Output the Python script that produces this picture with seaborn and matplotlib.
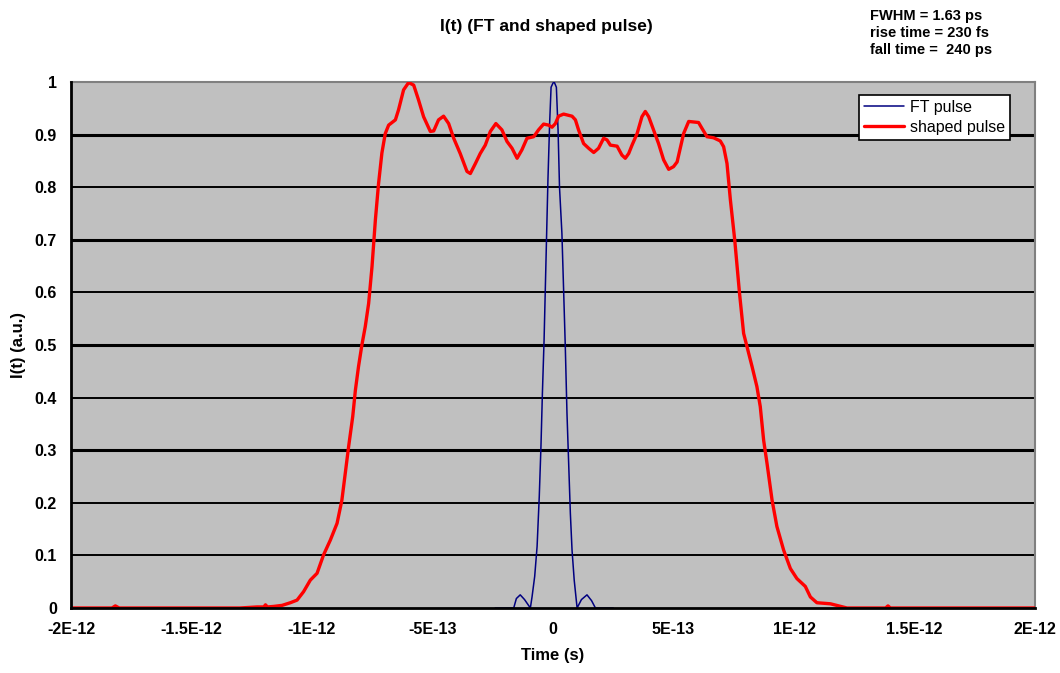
import matplotlib
matplotlib.use("Agg")
import matplotlib.pyplot as plt
import seaborn as sns
import pandas as pd
import numpy as np

# ---- data (time in ps, intensity in a.u.) ----
shaped_t = [-2.0, -1.83, -1.816, -1.80, -1.30, -1.228, -1.20, -1.193, -1.185, -1.159, -1.124, -1.090,
            -1.062, -1.035, -1.007, -0.979, -0.952, -0.924, -0.896, -0.876, -0.862, -0.848, -0.831,
            -0.820, -0.807, -0.793, -0.779, -0.765, -0.751, -0.737, -0.724, -0.710, -0.696, -0.682,
            -0.654, -0.641, -0.620, -0.599, -0.578, -0.558, -0.537, -0.509, -0.495, -0.475, -0.454,
            -0.433, -0.412, -0.385, -0.357, -0.343, -0.322, -0.302, -0.281, -0.260, -0.237, -0.212,
            -0.191, -0.170, -0.149, -0.129, -0.108, -0.080, -0.060, -0.039, -0.018, -0.004, 0.010,
            0.023, 0.044, 0.079, 0.093, 0.106, 0.127, 0.148, 0.169, 0.189, 0.210, 0.224, 0.238, 0.266,
            0.286, 0.300, 0.314, 0.328, 0.349, 0.369, 0.383, 0.397, 0.417, 0.438, 0.459, 0.480, 0.500,
            0.515, 0.528, 0.542, 0.563, 0.604, 0.618, 0.639, 0.666, 0.694, 0.708, 0.722, 0.736, 0.754,
            0.774, 0.791, 0.805, 0.826, 0.846, 0.860, 0.874, 0.888, 0.909, 0.929, 0.957, 0.985, 1.012,
            1.047, 1.068, 1.095, 1.151, 1.185, 1.22, 1.38, 1.39, 1.40, 2.0]
shaped_i = [0, 0, 0.004, 0, 0, 0.002, 0.002, 0.006, 0.002, 0.003, 0.005, 0.010,
            0.015, 0.031, 0.053, 0.066, 0.101, 0.129, 0.161, 0.205, 0.256, 0.307, 0.364,
            0.414, 0.459, 0.500, 0.535, 0.579, 0.649, 0.738, 0.806, 0.865, 0.902, 0.918,
            0.928, 0.947, 0.985, 0.999, 0.994, 0.966, 0.934, 0.906, 0.907, 0.928, 0.935,
            0.921, 0.893, 0.864, 0.830, 0.826, 0.845, 0.864, 0.880, 0.906, 0.921, 0.909,
            0.887, 0.874, 0.855, 0.871, 0.893, 0.896, 0.909, 0.920, 0.918, 0.914, 0.921,
            0.935, 0.939, 0.935, 0.928, 0.909, 0.883, 0.874, 0.866, 0.874, 0.893, 0.890, 0.880, 0.878,
            0.861, 0.855, 0.864, 0.880, 0.902, 0.934, 0.944, 0.934, 0.909, 0.883, 0.852, 0.834, 0.839,
            0.848, 0.874, 0.902, 0.925, 0.923, 0.912, 0.896, 0.894, 0.888, 0.877, 0.845, 0.776, 0.700,
            0.598, 0.522, 0.497, 0.459, 0.421, 0.383, 0.319, 0.275, 0.205, 0.155, 0.110, 0.075, 0.056,
            0.041, 0.021, 0.010, 0.008, 0.004, 0, 0, 0.004, 0, 0]

ft_t = [-0.24, -0.163, -0.152, -0.136, -0.118, -0.094, -0.087, -0.076, -0.066, -0.057, -0.050,
        -0.044, -0.037, -0.031, -0.025, -0.021, -0.014, -0.008, 0.000, 0.005, 0.014, 0.021, 0.027,
        0.037, 0.044, 0.051, 0.058, 0.065, 0.072, 0.079, 0.088, 0.100, 0.118, 0.141, 0.160, 0.176, 0.25]
ft_i = [0, 0, 0.018, 0.025, 0.016, 0, 0.021, 0.060, 0.117, 0.212, 0.307,
        0.408, 0.51, 0.624, 0.738, 0.814, 0.921, 0.99, 0.998, 1.0, 0.99, 0.909, 0.80,
        0.712, 0.605, 0.497, 0.370, 0.275, 0.18, 0.110, 0.053, 0.0, 0.016, 0.025, 0.014, 0, 0]

x_ticks = [-2e-12, -1.5e-12, -1e-12, -5e-13, 0, 5e-13, 1e-12, 1.5e-12, 2e-12]
x_labels = ["-2E-12", "-1.5E-12", "-1E-12", "-5E-13", "0", "5E-13", "1E-12", "1.5E-12", "2E-12"]
y_ticks = [0, 0.1, 0.2, 0.3, 0.4, 0.5, 0.6, 0.7, 0.8, 0.9, 1.0]
y_labels = ["0", "0.1", "0.2", "0.3", "0.4", "0.5", "0.6", "0.7", "0.8", "0.9", "1"]

df_ft = pd.DataFrame({"t": np.array(ft_t) * 1e-12, "I": ft_i})
df_sh = pd.DataFrame({"t": np.array(shaped_t) * 1e-12, "I": shaped_i})

sns.set_style("white")
plt.rcParams["font.family"] = ["Liberation Sans", "DejaVu Sans"]
plt.rcParams["text.color"] = "black"
plt.rcParams["axes.labelcolor"] = "black"
plt.rcParams["xtick.color"] = "black"
plt.rcParams["ytick.color"] = "black"

fig = plt.figure(figsize=(10.6, 6.73), dpi=100)
ax = fig.add_axes([71 / 1060, 65 / 673, 964 / 1060, 526 / 673])
ax.set_facecolor("#C0C0C0")

# gridlines
for v in y_ticks[1:]:
    lw = 2.2 if round(v * 10) in (3, 5, 7, 9) else 1.4
    ax.axhline(v, color="black", lw=lw, zorder=1)

sns.lineplot(data=df_ft, x="t", y="I", ax=ax, color="#000080", lw=1.1,
             label="FT pulse", estimator=None, sort=False, zorder=3)
sns.lineplot(data=df_sh, x="t", y="I", ax=ax, color="#FF0000", lw=2.4,
             label="shaped pulse", estimator=None, sort=False, zorder=4)

ax.set_xlim(-2e-12, 2e-12)
ax.set_ylim(0, 1)
ax.set_xticks(x_ticks)
ax.set_xticklabels(x_labels, fontsize=11.5, fontweight="bold")
ax.set_yticks(y_ticks)
ax.set_yticklabels(y_labels, fontsize=11.5, fontweight="bold")
ax.tick_params(axis="both", direction="out", length=4, width=1.5, color="black", pad=6)

for side in ["left", "bottom"]:
    ax.spines[side].set_color("black")
    ax.spines[side].set_linewidth(2)
    ax.spines[side].set_zorder(6)
for side in ["top", "right"]:
    ax.spines[side].set_color("#808080")
    ax.spines[side].set_linewidth(1.5)

ax.set_xlabel("Time (s)", fontsize=12, fontweight="bold", labelpad=8)
ax.set_ylabel("I(t) (a.u.)", fontsize=12, fontweight="bold", labelpad=6)

fig.text(546 / 1060, 1 - 27 / 673, "I(t) (FT and shaped pulse)", ha="center", va="center",
         fontsize=12.5, fontweight="bold")
fig.text(870 / 1060, 1 - 33 / 673, "FWHM = 1.63 ps\nrise time = 230 fs\nfall time =  240 ps",
         ha="left", va="center", fontsize=10.5, fontweight="bold", linespacing=1.3)

leg = ax.legend(loc="upper right", bbox_to_anchor=(0.9825, 0.99), fontsize=11.5, frameon=True,
                fancybox=False, edgecolor="black", framealpha=1, borderpad=0.3,
                handlelength=2.5, handletextpad=0.4, labelspacing=0.3)
leg.get_frame().set_linewidth(1.2)
leg.set_zorder(10)
for txt in leg.get_texts():
    txt.set_color("black")

fig.savefig("out.png", dpi=100)
